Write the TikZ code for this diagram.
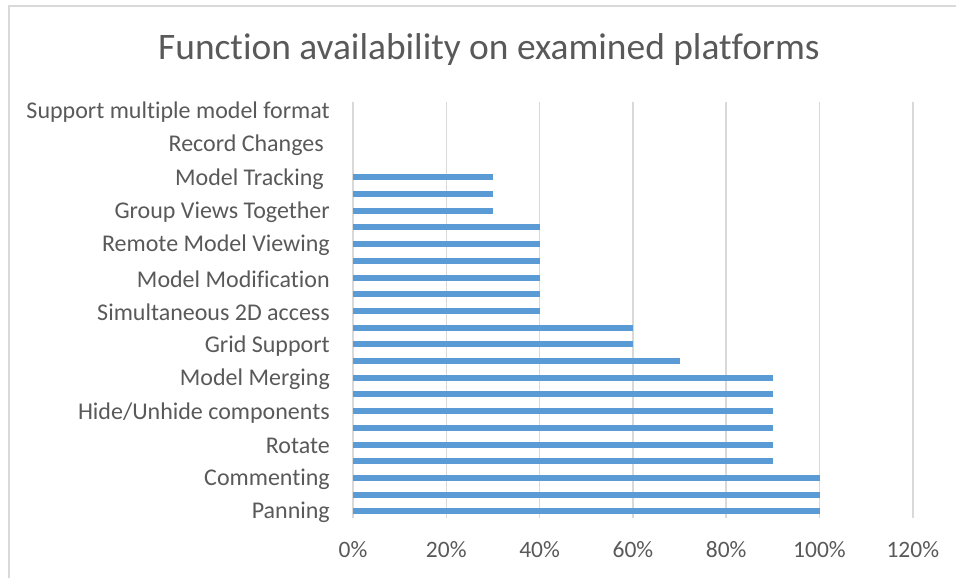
\documentclass[tikz,border=0pt]{standalone}
\usepackage{fontspec}
\setmainfont{Carlito}[Ligatures={NoCommon}]
\usepackage{xcolor}
\usepackage{tikz}
\usetikzlibrary{positioning}
\definecolor{barblue}{HTML}{5B9BD5}
\definecolor{gridgray}{HTML}{D9D9D9}
\definecolor{textgray}{HTML}{595959}
\newcommand{\rowy}[1]{110.5+16.7*#1}

\begin{document}
\begin{tikzpicture}[
  x=1pt, y=-1pt,
  every node/.style = {text=textgray, inner sep=0pt},
  gridline/.style = {gridgray, line width=1.5pt},
  frameline/.style = {gridgray, line width=1.5pt},
  bar/.style = {fill=barblue, draw=none},
  catlabel/.style = {anchor=east, yshift=-1.5pt, font=\fontsize{24}{28}\selectfont},
  ticklabel/.style = {font=\fontsize{23.5}{28}\selectfont},
]
\useasboundingbox (0,0) rectangle (956,578);
\draw[frameline] (9,580) -- (9,6) -- (958,6);
\node[font=\fontsize{37.4}{42}\selectfont] (title) at (489,50) {Function availability on examined platforms};
% vertical gridlines and tick labels
\foreach \k/\pct in {0/0\%,1/20\%,2/40\%,3/60\%,4/80\%,5/100\%,6/120\%} {
  \draw[gridline] (353+93.3*\k,102) -- (353+93.3*\k,518);
  \node[ticklabel] (tick\k) at (353+93.3*\k,550) {\pct};
}
% bars, top to bottom
\foreach \i/\v in {4/30,5/30,6/30,7/40,8/40,9/40,10/40,11/40,12/40,13/60,14/60,15/70,
                   16/90,17/90,18/90,19/90,20/90,21/90,22/100,23/100,24/100} {
  \fill[bar] (353,{\rowy{\i}-3}) rectangle ({353+4.665*\v},{\rowy{\i}+3});
}
% category labels (every second one shown)
\node[catlabel] (fmt)   at (330,{\rowy{0}})  {Support multiple model format};
\node[catlabel] (rec)   at (330,{\rowy{2}})  {Record Changes\kern6pt};
\node[catlabel] (track) at (330,{\rowy{4}})  {Model Tracking\kern6pt};
\node[catlabel] (group) at (330,{\rowy{6}})  {Group Views Together};
\node[catlabel] (remote) at (330,{\rowy{8}}) {Remote Model Viewing};
\node[catlabel] (modif) at (330,{\rowy{10}}) {Model Modification};
\node[catlabel] (simul) at (330,{\rowy{12}}) {Simultaneous 2D access};
\node[catlabel] (grid)  at (330,{\rowy{14}}) {Grid Support};
\node[catlabel] (merge) at (330,{\rowy{16}}) {Model Merging};
\node[catlabel] (hide)  at (330,{\rowy{18}}) {Hide/Unhide components};
\node[catlabel] (rot)   at (330,{\rowy{20}}) {Rotate};
\node[catlabel] (comm)  at (330,{\rowy{22}}) {Commenting};
\node[catlabel] (pan)   at (330,{\rowy{24}}) {Panning};
\end{tikzpicture}
\end{document}
